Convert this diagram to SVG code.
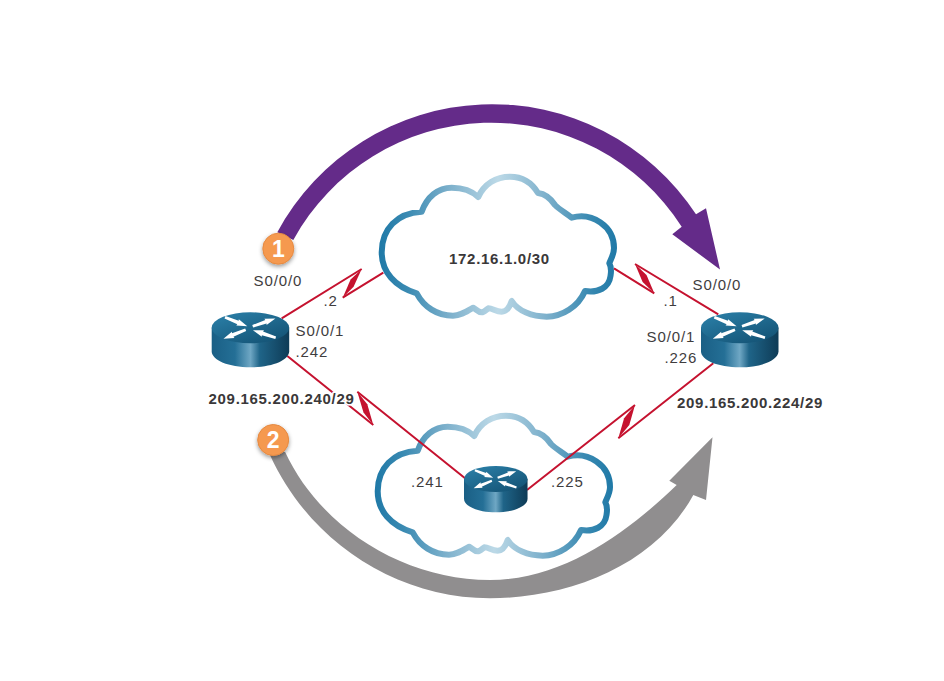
<svg xmlns="http://www.w3.org/2000/svg" xmlns:xlink="http://www.w3.org/1999/xlink" width="944" height="681" viewBox="0 0 944 681">
<style>
.t{font-family:"Liberation Sans",Arial,sans-serif;font-size:15px;letter-spacing:.9px;fill:#3f3d3e}
.b{font-family:"Liberation Sans",Arial,sans-serif;font-size:15px;font-weight:700;letter-spacing:.7px;fill:#3a3839}
.halo{paint-order:stroke;stroke:#fff;stroke-width:3px;stroke-linejoin:round}
.n{font-family:"Liberation Sans",Arial,sans-serif;font-size:23px;font-weight:700;fill:#fff;text-anchor:middle}
.link{fill:none;stroke:#c5122f;stroke-width:2}
.zig{fill:#c5122f}
.cloud{fill:#fff;stroke:url(#cg);stroke-width:6;stroke-linejoin:round;stroke-linecap:round}
.badge{fill:#f5994f;stroke:#e58a42;stroke-width:1;filter:url(#sh)}
</style>
<defs>
<linearGradient id="cg" gradientUnits="userSpaceOnUse" x1="379" y1="0" x2="617" y2="0">
<stop offset="0" stop-color="#1f79a7"/><stop offset=".12" stop-color="#3a8ab2"/><stop offset=".3" stop-color="#7eb1cc"/><stop offset=".5" stop-color="#bcd9e7"/><stop offset=".7" stop-color="#7eb1cc"/><stop offset=".88" stop-color="#3a8ab2"/><stop offset="1" stop-color="#1f79a7"/>
</linearGradient>
<linearGradient id="rb" x1="0" y1="0" x2="1" y2="0">
<stop offset="0" stop-color="#1a5f85"/><stop offset=".3" stop-color="#246f96"/><stop offset=".5" stop-color="#6fa7c4"/><stop offset=".62" stop-color="#1f6488"/><stop offset="1" stop-color="#0e3b56"/>
</linearGradient>
<linearGradient id="rt" x1="0" y1="0" x2=".8" y2="1">
<stop offset="0" stop-color="#2c82ab"/><stop offset="1" stop-color="#145375"/>
</linearGradient>
<filter id="sh" x="-30%" y="-30%" width="160%" height="170%"><feDropShadow dx="0" dy="2" stdDeviation="2" flood-color="#000" flood-opacity=".4"/></filter>
<path id="ca" d="M416.7 293.3C395 287 381.7 272 381.7 252.3C381.7 229 397 213 421.7 211.7C427 197 438 187.7 451.7 187.7C462 187.7 472 191 478.3 197C484 184 496 176.7 510 176.7C522 176.7 532 183 538 193C546 194 551 199 555 205C560 210 566 213 571.7 217.7C592 212 614 226 614 248C614 254 611 259 609.3 263.3C612 268 611 272 610.5 276C609 288 598 293 585 291C578 307 562 316.7 546.7 316.7C532 316.7 518 311 511.7 301C510 306 507 311.7 501.7 311.7C496 311.7 492 308 488.3 308.3C486 310 484 312.3 481.7 312.3C478 312.3 476 309 473.3 307.7C466 312 460 315.7 453 315.7C437 315.7 424 307 416.7 293.3Z"/>
<path id="ar" d="M0-1.3L14-1.9L13.5-3.4L24 0L13.5 3.4L14 1.9L0 1.3Z" fill="#fff"/>
<g id="router">
<path d="M0 15.5V39C0 48 17 55 38.75 55S77.5 48 77.5 39V15.5Z" fill="url(#rb)"/>
<ellipse cx="38.75" cy="15.5" rx="38.75" ry="15.5" fill="url(#rt)"/>
<use xlink:href="#ar" href="#ar" transform="translate(13.3 5) rotate(21.8)"/>
<use xlink:href="#ar" href="#ar" transform="translate(41 14) rotate(-19)"/>
<use xlink:href="#ar" href="#ar" transform="translate(34 17.5) rotate(158)"/>
<use xlink:href="#ar" href="#ar" transform="translate(64 25.5) rotate(198.6)"/>
</g>
</defs>
<rect width="944" height="681" fill="#fff"/>
<g id="flows">
<path id="flow-1" fill="#642b89" d="M277.3 232.3A244 244 0 0 1 696 214.3L706 208.3L720 269.5L672.3 234.3L681.7 226.7A226 226 0 0 0 293.3 240Z"/>
<path id="flow-2" fill="#908e8f" d="M270 455C309 541 395 598 490 598.3C570 598 655 565 693.3 495L706 500L712.5 437.3L669.3 480.7L676.7 485C630 530 565 580 490 580C405 580 321 529 285 451.7Z"/>
</g>
<g id="cloud-top"><use xlink:href="#ca" href="#ca" class="cloud"/></g>
<g id="cloud-bottom"><use xlink:href="#ca" href="#ca" class="cloud" transform="translate(-4 239)"/></g>
<g id="connectors">
<path class="link" d="M281.7 318.3L361.7 269M342.7 297.7L383.3 272.7"/>
<polygon class="zig" points="361.7,269 353.6,286.7 342.7,297.7 350.6,279.4"/>
<path class="link" d="M287.3 356L373.3 425M357.3 391.7L466 479"/>
<polygon class="zig" points="373.3,425 363.5,412.5 357.3,391.7 367.3,404.3"/>
<path class="link" d="M614 268.3L654.3 293.3M635 264L718.3 314.3"/>
<polygon class="zig" points="635,264 646.5,275 654.3,293.3 642.6,282.1"/>
<path class="link" d="M713.3 363.3L618.3 438.3M635 405L527 490"/>
<polygon class="zig" points="635,405 624.1,418.2 618.3,438.3 629.3,425.1"/>
</g>
<g id="router-left"><use xlink:href="#router" href="#router" transform="translate(211.7 312.3)"/></g>
<g id="router-right"><use xlink:href="#router" href="#router" transform="translate(701 312.3)"/></g>
<g id="router-mid"><use xlink:href="#router" href="#router" transform="translate(464 466) scale(.82 .842)"/></g>
<g id="badge-1"><circle class="badge" cx="278.3" cy="248.7" r="15.5"/><text class="n" x="278.3" y="256.5">1</text></g>
<g id="badge-2"><circle class="badge" cx="273.2" cy="440" r="15.5"/><text class="n" x="273.2" y="448">2</text></g>
<g id="labels">
<text class="t" x="253.5" y="286">S0/0/0</text>
<text class="t" x="323.5" y="306">.2</text>
<text class="t" x="295.5" y="336">S0/0/1</text>
<text class="t" x="295.5" y="357">.242</text>
<text class="b halo" x="208.5" y="404">209.165.200.240/29</text>
<text class="b" x="449" y="264">172.16.1.0/30</text>
<text class="t" x="411" y="487">.241</text>
<text class="t" x="551" y="487">.225</text>
<text class="t" x="692.5" y="290">S0/0/0</text>
<text class="t" x="663.5" y="306">.1</text>
<text class="t" x="646.5" y="342">S0/0/1</text>
<text class="t" x="664.5" y="363">.226</text>
<text class="b" x="677" y="408">209.165.200.224/29</text>
</g>
</svg>
